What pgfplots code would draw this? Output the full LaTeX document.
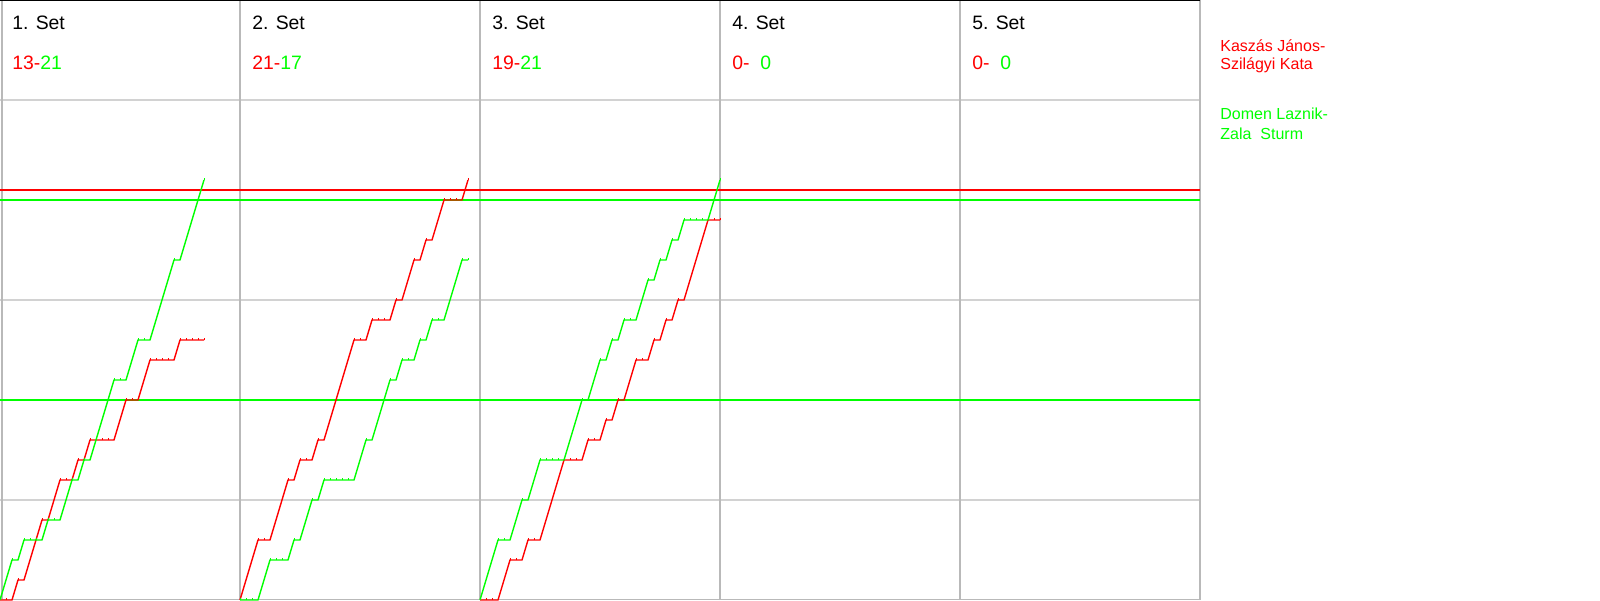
\documentclass[border=0pt]{standalone}
\usepackage{fontspec}
\setmainfont{Liberation Sans}
\usepackage{pgfplots}
\pgfplotsset{compat=1.18}
\definecolor{rd}{RGB}{255,0,0}
\definecolor{gn}{RGB}{0,255,0}
\definecolor{hgrid}{RGB}{210,210,210}
\definecolor{vgrid}{RGB}{185,185,185}
\pgfplotsset{rally/.style={line width=0.7pt, mark=|, mark size=0.5pt, mark options={line width=0.5pt, yshift=0.4pt}}}
\begin{document}
\begin{tikzpicture}
\useasboundingbox (0,0) rectangle (800pt,300pt);
\begin{axis}[at={(0pt,0pt)}, anchor=south west, scale only axis,
  width=600pt, height=300pt, xmin=0, xmax=200, ymin=0, ymax=30,
  axis line style={draw=none}, xtick=\empty, ytick={5,10,15,20,25},
  yticklabels={}, major tick length=0pt, ymajorgrids,
  grid style={hgrid, line width=0.55pt}, clip=false]
% panel separators
\draw[vgrid, line width=0.55pt] (axis cs:0.33,0) -- (axis cs:0.33,30);
\draw[vgrid, line width=0.55pt] (axis cs:40,0) -- (axis cs:40,30);
\draw[vgrid, line width=0.55pt] (axis cs:80,0) -- (axis cs:80,30);
\draw[vgrid, line width=0.55pt] (axis cs:120,0) -- (axis cs:120,30);
\draw[vgrid, line width=0.55pt] (axis cs:160,0) -- (axis cs:160,30);
\draw[vgrid, line width=0.55pt] (axis cs:200,0) -- (axis cs:200,30);
\draw[vgrid, line width=0.55pt] (axis cs:0,0.02) -- (axis cs:200,0.02);
\draw[black, line width=0.8pt] (axis cs:0,30) -- (axis cs:200,30);
% reference lines
\addplot[rd, line width=0.55pt] coordinates {(0,20.5) (200,20.5)};
\addplot[gn, line width=0.55pt] coordinates {(0,20) (200,20)};
\addplot[gn, line width=0.55pt] coordinates {(0,10) (200,10)};
% Set 1
\addplot[rd, rally] coordinates {(0,0)(1,0)(2,0)(3,1)(4,1)(5,2)(6,3)(7,4)(8,4)(9,5)(10,6)(11,6)(12,6)(13,7)(14,7)(15,8)(16,8)(17,8)(18,8)(19,8)(20,9)(21,10)(22,10)(23,10)(24,11)(25,12)(26,12)(27,12)(28,12)(29,12)(30,13)(31,13)(32,13)(33,13)(34,13)};
\addplot[gn, rally] coordinates {(0,0)(1,1)(2,2)(3,2)(4,3)(5,3)(6,3)(7,3)(8,4)(9,4)(10,4)(11,5)(12,6)(13,6)(14,7)(15,7)(16,8)(17,9)(18,10)(19,11)(20,11)(21,11)(22,12)(23,13)(24,13)(25,13)(26,14)(27,15)(28,16)(29,17)(30,17)(31,18)(32,19)(33,20)(34,21)};
% Set 2
\addplot[rd, rally] coordinates {(40,0)(41,1)(42,2)(43,3)(44,3)(45,3)(46,4)(47,5)(48,6)(49,6)(50,7)(51,7)(52,7)(53,8)(54,8)(55,9)(56,10)(57,11)(58,12)(59,13)(60,13)(61,13)(62,14)(63,14)(64,14)(65,14)(66,15)(67,15)(68,16)(69,17)(70,17)(71,18)(72,18)(73,19)(74,20)(75,20)(76,20)(77,20)(78,21)};
\addplot[gn, rally] coordinates {(40,0)(41,0)(42,0)(43,0)(44,1)(45,2)(46,2)(47,2)(48,2)(49,3)(50,3)(51,4)(52,5)(53,5)(54,6)(55,6)(56,6)(57,6)(58,6)(59,6)(60,7)(61,8)(62,8)(63,9)(64,10)(65,11)(66,11)(67,12)(68,12)(69,12)(70,13)(71,13)(72,14)(73,14)(74,14)(75,15)(76,16)(77,17)(78,17)};
% Set 3
\addplot[rd, rally] coordinates {(80,0)(81,0)(82,0)(83,0)(84,1)(85,2)(86,2)(87,2)(88,3)(89,3)(90,3)(91,4)(92,5)(93,6)(94,7)(95,7)(96,7)(97,7)(98,8)(99,8)(100,8)(101,9)(102,9)(103,10)(104,10)(105,11)(106,12)(107,12)(108,12)(109,13)(110,13)(111,14)(112,14)(113,15)(114,15)(115,16)(116,17)(117,18)(118,19)(119,19)(120,19)};
\addplot[gn, rally] coordinates {(80,0)(81,1)(82,2)(83,3)(84,3)(85,3)(86,4)(87,5)(88,5)(89,6)(90,7)(91,7)(92,7)(93,7)(94,7)(95,8)(96,9)(97,10)(98,10)(99,11)(100,12)(101,12)(102,13)(103,13)(104,14)(105,14)(106,14)(107,15)(108,16)(109,16)(110,17)(111,17)(112,18)(113,18)(114,19)(115,19)(116,19)(117,19)(118,19)(119,20)(120,21)};
\end{axis}
% headers
\fontsize{9.7}{11}\selectfont
\foreach \k/\t in {0/1,1/2,2/3,3/4,4/5}{
  \node[anchor=base west, inner sep=0pt] at ({6pt+120pt*\k},285pt) {\t. Set};
}
\node[anchor=base west, inner sep=0pt, text=rd] at (6pt,265pt) {13-};
\node[anchor=base west, inner sep=0pt, text=gn] at (20pt,265pt) {21};
\node[anchor=base west, inner sep=0pt, text=rd] at (126pt,265pt) {21-};
\node[anchor=base west, inner sep=0pt, text=gn] at (140pt,265pt) {17};
\node[anchor=base west, inner sep=0pt, text=rd] at (246pt,265pt) {19-};
\node[anchor=base west, inner sep=0pt, text=gn] at (260pt,265pt) {21};
\node[anchor=base west, inner sep=0pt, text=rd] at (366pt,265pt) {0-};
\node[anchor=base west, inner sep=0pt, text=gn] at (380pt,265pt) {0};
\node[anchor=base west, inner sep=0pt, text=rd] at (486pt,265pt) {0-};
\node[anchor=base west, inner sep=0pt, text=gn] at (500pt,265pt) {0};
% legend
\fontsize{8}{9}\selectfont
\node[anchor=base west, inner sep=0pt, text=rd] at (610pt,274pt) {Kaszás János-};
\node[anchor=base west, inner sep=0pt, text=rd] at (610pt,265pt) {Szilágyi Kata};
\node[anchor=base west, inner sep=0pt, text=gn] at (610pt,240pt) {Domen Laznik-};
\node[anchor=base west, inner sep=0pt, text=gn] at (610pt,230pt) {Zala~~Sturm};
\end{tikzpicture}
\end{document}
